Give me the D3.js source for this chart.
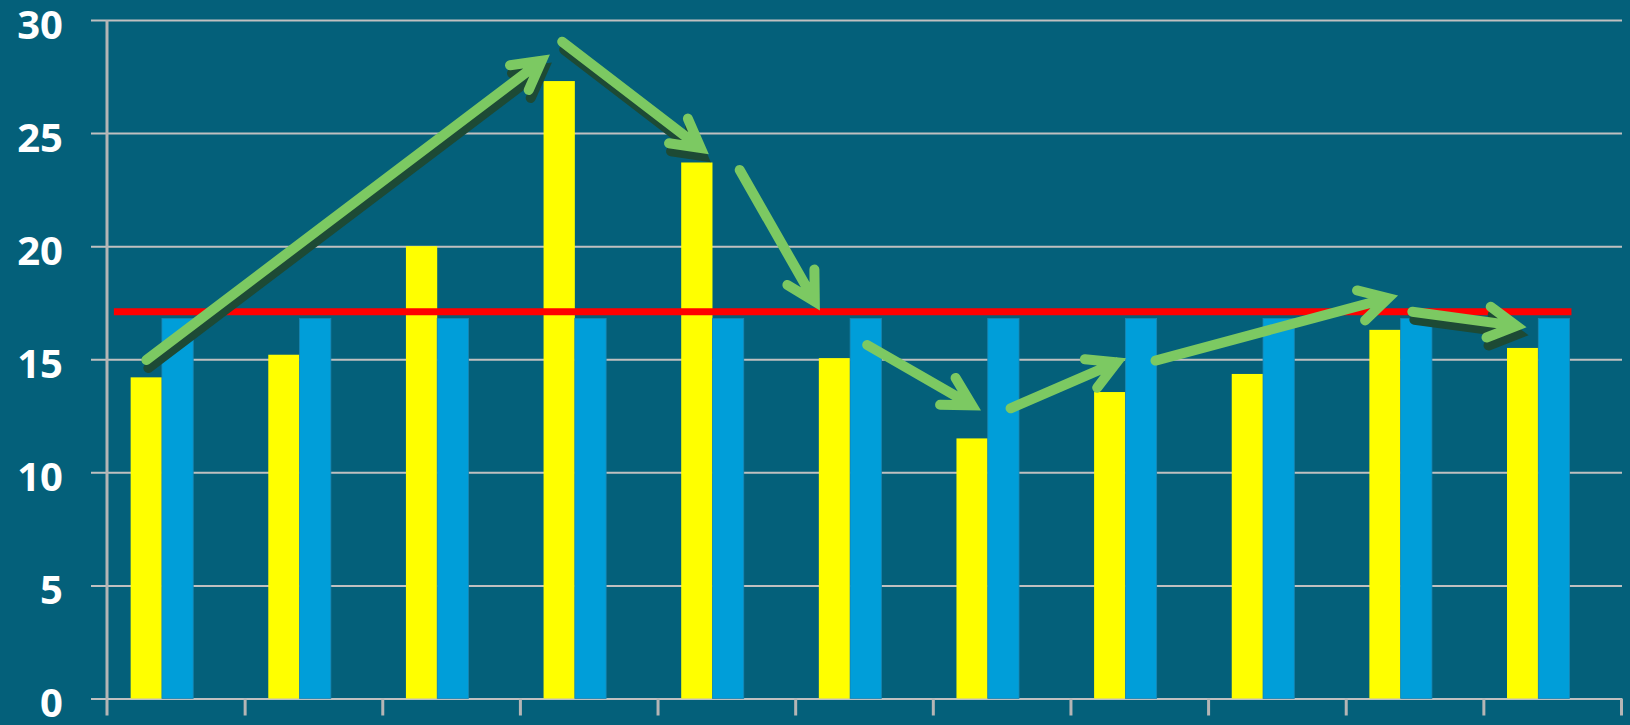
<!DOCTYPE html>
<html>
    <head>
        <meta charset="utf-8">
        <title>Bars with trend arrows</title>
        <script src="https://d3js.org/d3.v7.min.js"></script>
        <style>
            body { margin: 0; background: #04607a; }
            .tick text { font-family: "Noto Sans", sans-serif; font-weight: 700; }
        </style>
    </head>
    <body>
        <div id="myGraph"></div>

        <script>
            // chart data (no category labels are shown in the picture)
            var categories = ["1", "2", "3", "4", "5", "6", "7", "8", "9", "10", "11"]
            var yellowValues = [14.2, 15.2, 20.0, 27.3, 23.7, 15.05, 11.5, 13.55, 14.35, 16.3, 15.5]
            var blueValues = [16.8, 16.8, 16.8, 16.8, 16.8, 16.8, 16.8, 16.8, 16.8, 16.8, 16.8]
            var yTickValues = [0, 5, 10, 15, 20, 25, 30]

            // red reference line: value and span in category units
            var refValue = 17.1
            var refSpan = [0.05, 10.64]

            // green arrows: [from category pos, from value, to category pos, to value, shadow]
            var arrows = [
                [0.286, 14.97, 3.193, 28.36, true],
                [3.307, 29.04, 4.348, 24.18, true],
                [4.597, 23.37, 5.164, 17.32, false],
                [5.523, 15.63, 6.323, 12.83, false],
                [6.565, 12.83, 7.376, 14.97, false],
                [7.618, 14.94, 9.350, 17.77, false],
                [9.484, 17.10, 10.283, 16.44, true]
            ]

            var width = 1630
            var height = 725

            var svg = d3.select("#myGraph")
                .append("svg")
                .attr("width", width)
                .attr("height", height)
                .style("display", "block")

            svg.append("rect")
                .attr("width", width)
                .attr("height", height)
                .attr("fill", "#04607a")

            var defs = svg.append("defs")
            defs.append("filter").attr("id", "soft")
                .append("feGaussianBlur").attr("stdDeviation", 0.7)

            // scales
            var y = d3.scaleLinear().domain([0, 30]).range([698.5, 20])
            var x0 = d3.scaleBand().domain(categories).range([107, 1621])
            // third slot is an empty series, keeps the pair off-centre like the original
            var x1 = d3.scaleBand().domain(["yellow", "blue", "spare"])
                .range([0, x0.bandwidth()])
                .paddingOuter(0.7)
                .align(0.54)
            var xu = d3.scaleLinear().domain([0, categories.length]).range(x0.range())

            // gridlines + y labels
            var yAxis = svg.append("g")
                .attr("transform", "translate(91,0)")
                .call(d3.axisLeft(y).tickValues(yTickValues).tickSize(-(1622 - 91)).tickPadding(28))
            yAxis.select(".domain").remove()
            yAxis.selectAll(".tick line").attr("stroke", "#c0c0c0").attr("stroke-width", 2)
            yAxis.selectAll(".tick text")
                .attr("fill", "white")
                .attr("font-size", 40)
                .attr("dy", "0.45em")

            // vertical axis line
            svg.append("line")
                .attr("x1", x0.range()[0]).attr("x2", x0.range()[0])
                .attr("y1", y(30)).attr("y2", y(0) + 17)
                .attr("stroke", "#b5b5b5")
                .attr("stroke-width", 3)

            // bottom axis with ticks between categories
            var xAxis = svg.append("g")
                .attr("transform", "translate(0," + y(0) + ")")
                .call(d3.axisBottom(xu).tickValues(d3.range(1, categories.length + 1)).tickSize(17).tickSizeOuter(0).tickFormat(""))
            xAxis.select(".domain").attr("stroke", "#c0c0c0").attr("stroke-width", 2)
            xAxis.selectAll(".tick line").attr("stroke", "#b5b5b5").attr("stroke-width", 3)

            // bars
            var groups = svg.append("g")
                .selectAll("g")
                .data(categories)
                .enter()
                .append("g")
                .attr("transform", function(d){ return "translate(" + x0(d) + ",0)" })

            groups.append("rect")
                .attr("x", x1("yellow"))
                .attr("width", x1.bandwidth())
                .attr("y", function(d, i){ return y(yellowValues[i]) })
                .attr("height", function(d, i){ return y(0) - y(yellowValues[i]) })
                .attr("fill", "#ffff00")

            groups.append("rect")
                .attr("x", x1("blue"))
                .attr("width", x1.bandwidth())
                .attr("y", function(d, i){ return y(blueValues[i]) })
                .attr("height", function(d, i){ return y(0) - y(blueValues[i]) })
                .attr("fill", "#009ed9")
                .attr("stroke", "#1a86b3")
                .attr("stroke-width", 0.8)

            // red reference line
            svg.append("line")
                .attr("x1", xu(refSpan[0])).attr("x2", xu(refSpan[1]))
                .attr("y1", y(refValue)).attr("y2", y(refValue))
                .attr("stroke", "#ff0000")
                .attr("stroke-width", 7)

            // arrows
            function arrowPath(a) {
                var p0 = [xu(a[0]), y(a[1])]
                var p1 = [xu(a[2]), y(a[3])]
                var dx = p1[0] - p0[0], dy = p1[1] - p0[1]
                var len = Math.sqrt(dx * dx + dy * dy)
                var ux = dx / len, uy = dy / len
                var tip = [p1[0] - ux * 6, p1[1] - uy * 6]
                var ang = Math.atan2(-uy, -ux)
                var wl = 32, spread = 29 * Math.PI / 180
                var w1 = [tip[0] + wl * Math.cos(ang + spread), tip[1] + wl * Math.sin(ang + spread)]
                var w2 = [tip[0] + wl * Math.cos(ang - spread), tip[1] + wl * Math.sin(ang - spread)]
                return "M" + p0 + "L" + tip + "M" + w1 + "L" + tip + "L" + w2
            }

            var arrowLayer = svg.append("g")
            arrows.forEach(function(a) {
                if (a[4]) {
                    arrowLayer.append("path")
                        .attr("d", arrowPath(a))
                        .attr("transform", "translate(2,8)")
                        .attr("fill", "none")
                        .attr("stroke", "#1d4a35")
                        .attr("stroke-width", 10)
                        .attr("stroke-linecap", "round")
                        .attr("stroke-linejoin", "miter")
                }
                arrowLayer.append("path")
                    .attr("d", arrowPath(a))
                    .attr("fill", "none")
                    .attr("stroke", "#7cc962")
                    .attr("stroke-width", 10)
                    .attr("stroke-linecap", "round")
                    .attr("stroke-linejoin", "miter")
                    .attr("filter", a[4] ? null : "url(#soft)")
            })
        </script>
    </body>
</html>
